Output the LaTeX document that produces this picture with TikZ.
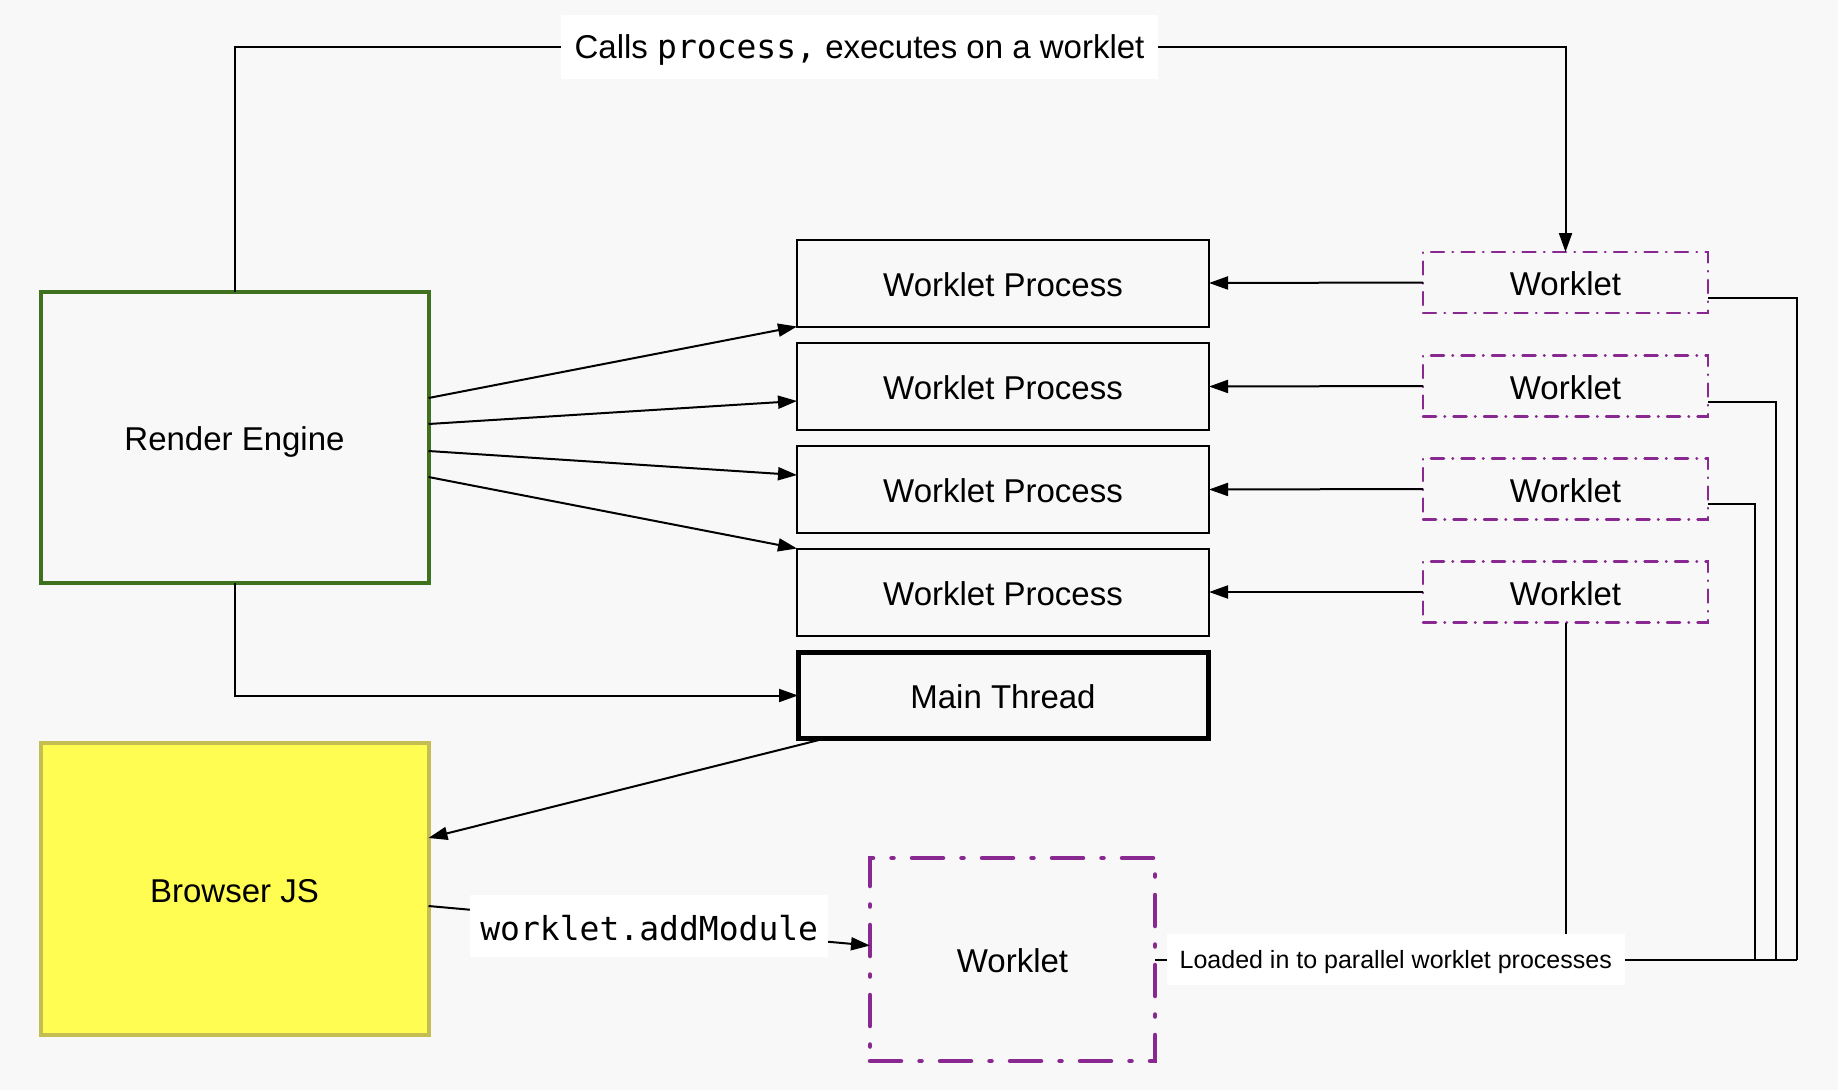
\documentclass[tikz,border=0pt]{standalone}
\usepackage{fontspec}
\setmainfont{Liberation Sans}
\setmonofont{DejaVu Sans Mono}
\usetikzlibrary{arrows.meta,calc}
\definecolor{bgc}{RGB}{248,248,248}
\definecolor{regreen}{RGB}{62,114,30}
\definecolor{wpurple}{RGB}{136,40,144}
\definecolor{jsfill}{RGB}{255,252,82}
\definecolor{jsdraw}{RGB}{196,190,82}
\tikzset{
  base/.style={draw, inner sep=0pt, outer sep=0pt, text depth=0pt, text height=26pt, font=\fontsize{33}{40}\selectfont, align=center},
  bigbox/.style={base, minimum width=388pt, minimum height=291pt},
  procbox/.style={base, line width=2pt, minimum width=412pt, minimum height=87pt, fill=bgc},
  wkbox/.style={base, draw=wpurple, line width=2.5pt, line cap=round,
     dash pattern=on 13pt off 8.5pt on 0.5pt off 8.5pt, minimum width=285pt, minimum height=61pt},
  lbl/.style={fill=white, inner sep=0pt, outer sep=0pt, text depth=0pt, font=\fontsize{33}{40}\selectfont},
  conn/.style={line width=2pt, draw=black},
  arr/.style={conn, -{Triangle[length=19pt,width=13pt]}},
}
\begin{document}
\begin{tikzpicture}[x=1pt,y=-1pt]
\useasboundingbox (0,0) rectangle (1838,1090);
\fill[bgc] (0,0) rectangle (1838,1090);

% main boxes
\node[bigbox, draw=regreen, line width=4pt, fill=bgc] (re) at (234.5,437.5) {Render Engine};
\node[bigbox, draw=jsdraw, line width=4pt, fill=jsfill, minimum height=292pt] (bjs) at (234.5,889) {Browser JS};

\node[procbox] (wp1) at (1003,283) {Worklet Process};
\node[procbox] (wp2) at (1003,386.5) {Worklet Process};
\node[procbox] (wp3) at (1003,489.5) {Worklet Process};
\node[procbox] (wp4) at (1003,592) {Worklet Process};
\node[procbox, line width=5pt, minimum width=410pt, minimum height=86pt] (mt) at (1003,695.5) {Main Thread};

\node[wkbox] (w1) at (1565.5,282.5) {Worklet};
\node[wkbox] (w2) at (1565.5,386) {Worklet};
\node[wkbox] (w3) at (1565.5,489) {Worklet};
\node[wkbox] (w4) at (1565.5,592) {Worklet};

\node[base, draw=wpurple, line width=4.5pt, line cap=round,
      dash pattern=on 31pt off 18.5pt on 2pt off 18.5pt,
      minimum width=285pt, minimum height=203pt] (bw) at (1012.5,959.5) {Worklet};

% top connector
\draw[arr] (re.north) -- (re.north |- 0,47)
  -- node[lbl, pos=0.4696, minimum width=597pt, minimum height=64pt] (toplbl)
     {Calls \texttt{\fontsize{33}{40}\selectfont process,} executes on a worklet}
  (w1.north |- 0,47) -- (w1.north);

% render engine -> worklet processes
\draw[arr] ($(re.north east)+(0,106)$) -- (wp1.south west);
\draw[arr] ($(re.north east)+(0,132)$) -- ($(wp2.west)+(0,14.5)$);
\draw[arr] ($(re.north east)+(0,159)$) -- ($(wp3.west)+(0,-14.5)$);
\draw[arr] ($(re.north east)+(0,185)$) -- (wp4.north west);

% render engine -> main thread
\draw[arr] (re.south) |- (mt.west);

% main thread -> browser js
\draw[arr] ($(mt.south west)+(27,0)$) -- ($(bjs.east)+(0,-51)$);

% browser js -> big worklet
\draw[arr] ($(bjs.east)+(0,17)$) -- node[lbl, pos=0.5, minimum width=358pt, minimum height=62pt, text height=29.5pt] (addlbl)
  {\texttt{\fontsize{33}{40}\selectfont worklet.addModule}} ($(bw.west)+(0,-14)$);

% worklets -> worklet processes
\draw[arr] (w1.west) -- (wp1.east);
\draw[arr] (w2.west) -- (wp2.east);
\draw[arr] (w3.west) -- (wp3.east);
\draw[arr] (w4.west) -- (wp4.east);

% bus lines
\coordinate (b1) at (1797,959.5);
\coordinate (b2) at (1776,959.5);
\coordinate (b3) at (1755,959.5);
\draw[conn] ($(w1.east)+(0,15.5)$) -| (b1);
\draw[conn] ($(w2.east)+(0,15.5)$) -| (b2);
\draw[conn] ($(w3.east)+(0,15)$) -| (b3);
\draw[conn] (w4.south) -- (w4.south |- b1);
\draw[conn] (bw.east) -- node[lbl, pos=0.375, minimum width=458pt, minimum height=51pt,
   font=\fontsize{25}{30}\selectfont] (ldlbl) {Loaded in to parallel worklet processes} (b1);
\end{tikzpicture}
\end{document}
